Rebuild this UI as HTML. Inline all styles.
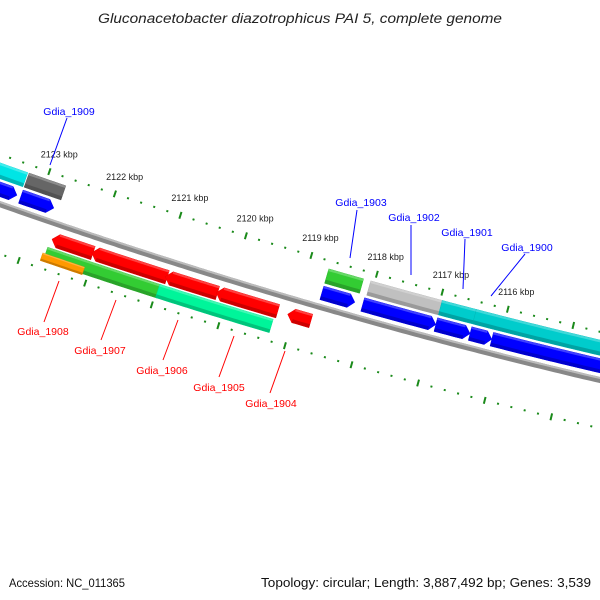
<!DOCTYPE html>
<html><head><meta charset="utf-8"><style>
html,body{margin:0;padding:0;background:#fff;}
svg{display:block;font-family:"Liberation Sans",sans-serif;}
</style></head><body>
<svg id="chart" width="600" height="600" viewBox="0 0 600 600">
<text x="98" y="23" textLength="404" lengthAdjust="spacingAndGlyphs" font-size="13.5" font-style="italic" fill="#222">Gluconacetobacter diazotrophicus PAI 5, complete genome</text>
<text x="9" y="587" textLength="116" lengthAdjust="spacingAndGlyphs" font-size="12" fill="#111">Accession: NC_011365</text>
<text x="261" y="587" textLength="330" lengthAdjust="spacingAndGlyphs" font-size="12.5" fill="#111">Topology: circular; Length: 3,887,492 bp; Genes: 3,539</text>
<g id="layer"></g>
</svg>
<script>
// gene data (kbp positions, left -> right)
const geneNames = ["f1","f2","f3","f4","f5","f6","f7","c1","dg","gr","lg","cy2","cy3","r1","r2","r3","r4","r5","g2","tq","or"];
const geneStart = [2123.95,2123.27,2118.70,2118.08,2116.97,2116.45,2116.12,2123.95,2123.27,2118.70,2118.06,2116.97,2116.45,2122.65,2122.05,2120.94,2120.17,2119.09,2122.67,2120.98,2122.71];
const geneEnd   = [2123.33,2122.77,2118.20,2116.97,2116.45,2116.12,2113.88,2123.29,2122.71,2118.17,2116.97,2116.45,2113.95,2122.03,2120.91,2120.15,2119.24,2118.74,2120.95,2119.27,2122.08];
const geneRow   = ["f1","f1","f1","f1","f1","f1","f1","f2","f2","f2","f2","f2","f2","r1","r1","r1","r1","r1","r2","r2","r3"];
const geneColor = ["#0000ff","#0000ff","#0000ff","#0000ff","#0000ff","#0000ff","#0000ff","#00e5e5","#666666","#33cc33","#c0c0c0","#00cccc","#00cccc","#ff0000","#ff0000","#ff0000","#ff0000","#ff0000","#33cc33","#00f59a","#ff9900"];
const tickLabels = [2123,2122,2121,2120,2119,2118,2117,2116];

const NS="http://www.w3.org/2000/svg";
const layer=document.getElementById('layer');
function xOfKbp(k){return 35+(2123-k)*66;}
function yb(x){return 201+0.3533*x-0.0001*x*x;}
function P(x,d){const m=0.3533-0.0002*x,L=Math.sqrt(1+m*m);return [x-d*m/L, yb(x)+d/L];}
function el(tag,attrs){const e=document.createElementNS(NS,tag);for(const k in attrs)e.setAttribute(k,attrs[k]);layer.appendChild(e);return e;}
function band(x0,x1,d0,d1){const pts=[];for(let x=x0;x<=x1;x+=4)pts.push(P(Math.min(x,x1),d0));pts.push(P(x1,d0));const pb=[];for(let x=x0;x<=x1;x+=4)pb.push(P(Math.min(x,x1),d1));pb.push(P(x1,d1));return pts.concat(pb.reverse());}
function ptsStr(a){return a.map(p=>p[0].toFixed(1)+","+p[1].toFixed(1)).join(" ");}
function shade(c,f){const n=parseInt(c.slice(1),16);let r=n>>16,g=(n>>8)&255,b=n&255;
 if(f>0){r+=(255-r)*f;g+=(255-g)*f;b+=(255-b)*f;}else{r*=1+f;g*=1+f;b*=1+f;}
 return "rgb("+Math.round(r)+","+Math.round(g)+","+Math.round(b)+")";}

// backbone
const bb=el('polygon',{points:ptsStr(band(-20,620,0,6)),fill:'#888'});


const bb2=el('polygon',{points:ptsStr(band(-20,620,0,2)),fill:'#bbb'});



// ticks
const rings=[-44,50];
for(const rd of rings){
 for(let i=0;i<=55;i++){
  const k=2124.2-i*0.2; const kr=Math.round(k*10)/10;
  const x=xOfKbp(kr); const major=Math.abs(kr-Math.round(kr))<0.01;
  const h=major?3.5:1; const a=P(x,rd-h),b=P(x,rd+h);
  const t=el('line',{x1:a[0],y1:a[1],x2:b[0],y2:b[1],stroke:'#1a8a1a','stroke-width':2});
  
  
 }
}
for(const k of tickLabels){
 const p=P(xOfKbp(k),-62);
 const t=el('text',{x:p[0]+4,y:p[1]+3,'font-size':9,'text-anchor':'middle',fill:'#222'});
 t.textContent=k+" kbp";
 
 
}

// genes
const rows={f1:[-18,-4,1],f2:[-36,-21,0],r1:[12,26,-1],r2:[28,42,0],r3:[35,43,0]};
for(let i=0;i<geneNames.length;i++){
 const [d0,d1,dir]=rows[geneRow[i]];
 const x0=xOfKbp(geneStart[i]), x1=xOfKbp(geneEnd[i]);
 let pts;
 const head=6, dm=(d0+d1)/2;
 if(dir===1){const tp=band(x0,x1-head,d0,d1);const n=tp.length/2;pts=tp.slice(0,n).concat([P(x1,dm)],tp.slice(n));}
 else if(dir===-1){const tp=band(x0+head,x1,d0,d1);const n=tp.length/2;pts=tp.slice(0,n).concat(tp.slice(n),[P(x0,dm)]);}
 else pts=band(x0,x1,d0,d1);
 const g=el('polygon',{points:ptsStr(pts),fill:geneColor[i],stroke:shade(geneColor[i],-0.1),'stroke-width':0.5});
 
 
 const h=Math.max(2,(d1-d0)*0.25);
 const top=el('polygon',{points:ptsStr(band(x0+(dir===-1?head:0),x1-(dir===1?head:0),d0,d0+h*0.6)),fill:shade(geneColor[i],0.25)});
 
 
 const bot=el('polygon',{points:ptsStr(band(x0+(dir===-1?head:0),x1-(dir===1?head:0),d1-h,d1)),fill:shade(geneColor[i],-0.2)});
 
 
}

// callout labels
const calloutText=["Gdia_1909","Gdia_1903","Gdia_1902","Gdia_1901","Gdia_1900","Gdia_1908","Gdia_1907","Gdia_1906","Gdia_1905","Gdia_1904"];
const calloutColor=["#0000ff","#0000ff","#0000ff","#0000ff","#0000ff","#ff0000","#ff0000","#ff0000","#ff0000","#ff0000"];
const calloutTx=[69,361,414,467,527,43,100,162,219,271];
const calloutTy=[115,206,221,236,251,335,354,374,391,407];
const calloutLine=[[67,118,50,165],[357,210,350,258],[411,225,411,275],[465,239,463,289],[525,254,491,296],[59,281,44,322],[116,300,101,340],[178,320,163,360],[234,336,219,377],[285,351,270,393]];
for(let i=0;i<calloutText.length;i++){
 const l=calloutLine[i];
 const ln=el('line',{x1:l[0],y1:l[1],x2:l[2],y2:l[3],stroke:calloutColor[i],'stroke-width':1});
 
 
 const t=el('text',{x:calloutTx[i],y:calloutTy[i],'font-size':10.5,'text-anchor':'middle',fill:calloutColor[i]});
 t.textContent=calloutText[i];
 
 
}
</script>
</body></html>
